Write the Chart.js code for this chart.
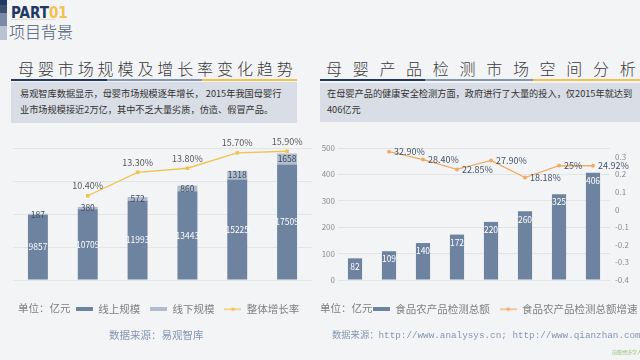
<!DOCTYPE html>
<html><head><meta charset="utf-8">
<script src="https://cdn.jsdelivr.net/npm/chart.js@4.4.1/dist/chart.umd.min.js"></script>
<style>
html,body{margin:0;padding:0}
body{width:640px;height:360px;position:relative;overflow:hidden;background:#f3f4f6;font-family:"Noto Sans CJK SC","Noto Sans",sans-serif;}
.a{position:absolute;white-space:nowrap;line-height:1;}
canvas{position:absolute;}
.bx{font-size:9.2px;color:#333;}
.tt{font-size:16px;color:#3a3a3a;font-weight:300;}
</style></head><body>
<div class="a" style="left:0;top:0;width:7px;height:5px;background:#1f3864"></div>
<div class="a" style="left:0;top:5px;width:7px;height:8px;background:#3d4f6e"></div>
<div class="a" style="left:0;top:13px;width:7px;height:13px;background:#7a8aa6"></div>
<div class="a" style="left:0;top:26px;width:7px;height:14px;background:#b8c2d1"></div>
<div class="a" style="left:11px;top:4px;font:bold 15px 'Liberation Sans Narrow','DejaVu Sans Condensed',sans-serif;color:#1f3864">PART<span style="color:#f2c14e">01</span></div>
<div class="a" style="left:11px;top:19px;width:44px;height:1px;background:#e6dcc4"></div>
<div class="a" style="left:9px;top:23px;font-size:16px;color:#4a5970;font-weight:300">项目背景</div>

<div class="a tt" style="left:18px;top:60px;letter-spacing:3.9px">母婴市场规模及增长率变化趋势</div>
<div class="a tt" style="left:326px;top:60px;letter-spacing:10.7px">母婴产品检测市场空间分析</div>

<div class="a" style="left:11px;top:79px;width:96px;height:2px;background:#203864"></div>
<div class="a" style="left:107px;top:79px;width:95px;height:2px;background:#8496b0"></div>
<div class="a" style="left:202px;top:79px;width:95px;height:2px;background:#f4c14f"></div>
<div class="a" style="left:320px;top:79px;width:105px;height:2px;background:#203864"></div>
<div class="a" style="left:425px;top:79px;width:108px;height:2px;background:#8496b0"></div>
<div class="a" style="left:533px;top:79px;width:107px;height:2px;background:#f4c14f"></div>

<div class="a" style="left:11px;top:82px;width:286px;height:41px;background:#d9dde5"></div>
<div class="a" style="left:320px;top:83px;width:320px;height:39px;background:#d9dde5"></div>
<div class="a bx" style="left:20px;top:89px">易观智库数据显示，母婴市场规模逐年增长， 2015年我国母婴行</div>
<div class="a bx" style="left:20px;top:105px">业市场规模接近2万亿，其中不乏大量劣质，仿造、假冒产品。</div>
<div class="a bx" style="left:327px;top:89px">在母婴产品的健康安全检测方面，政府进行了大量的投入，仅2015年就达到</div>
<div class="a bx" style="left:327px;top:105px">406亿元</div>

<canvas id="c1" width="320" height="195" style="left:0;top:130px"></canvas>
<canvas id="c2" width="320" height="195" style="left:320px;top:130px"></canvas>

<div class="a" style="left:18px;top:303px;font-size:10.5px;color:#7f7f7f">单位：亿元</div>
<div class="a" style="left:320px;top:303px;font-size:10.5px;color:#7f7f7f">单位：亿元</div>
<div class="a" style="left:109px;top:330px;font-size:10.5px;color:#8496b0">数据来源：易观智库</div>
<div class="a" style="left:332px;top:331px;font-size:9.3px;color:#8496b0;font-family:'Liberation Mono','Noto Sans CJK SC',monospace">数据来源：http://www.analysys.cn; http://www.qianzhan.com</div>
<div class="a" style="left:612px;top:349px;font-size:5px;color:#9cc47a">前瞻经济学人</div>

<script>
// ---- data ----
const years1 = ['Y2010','Y2011','Y2012','Y2013','Y2014','Y2015'];
const onlineScale = [9857,10709,11993,13443,15225,17509];
const offlineScale = [187,380,572,860,1318,1658];
const totalGrowth = [null,0.104,0.133,0.138,0.157,0.159];
const growthLabels1 = ['','10.40%','13.30%','13.80%','15.70%','15.90%'];

const years2 = ['Y2008','Y2009','Y2010','Y2011','Y2012','Y2013','Y2014','Y2015'];
const testTotal = [82,109,140,172,220,260,325,406];
const testGrowth = [null,0.329,0.284,0.2285,0.279,0.1818,0.25,0.2492];
const growthLabels2 = ['','32.90%','28.40%','22.85%','27.90%','18.18%','25%','24.92%'];

const C_DARK = '#6e83a0', C_LIGHT = '#b1bdcc', C_GOLD = '#f2c24f', C_ORANGE = '#f2ab62';
const LBL_FONT = '"Noto Sans CJK SC","Noto Sans",sans-serif';

function swatch(kind, color){
  const c = document.createElement('canvas');
  if(kind==='rect'){ c.width=17; c.height=4; const x=c.getContext('2d'); x.fillStyle=color; x.fillRect(0,0,17,4); }
  else { c.width=17; c.height=6; const x=c.getContext('2d'); x.strokeStyle=color; x.lineWidth=1.2; x.beginPath(); x.moveTo(0,3); x.lineTo(17,3); x.stroke(); x.fillStyle=color; x.beginPath(); x.arc(8.5,3,1.8,0,Math.PI*2); x.fill(); }
  return c;
}

const valuePlugin = {
  id:'valueLabels',
  afterDatasetsDraw(chart){
    const ctx = chart.ctx;
    chart.data.datasets.forEach((ds,i)=>{
      const meta = chart.getDatasetMeta(i);
      const o = ds.valueLabel;
      if(!o || meta.hidden) return;
      ctx.save();
      ctx.font = o.font; ctx.fillStyle = o.color; ctx.textAlign = o.align||'center'; ctx.textBaseline='middle';
      meta.data.forEach((el,j)=>{
        const v = ds.data[j]; if(v==null) return;
        const t = o.text(v,j);
        let x = el.x, y = el.y;
        if(o.pos==='center') y = (el.y+el.base)/2;
        else if(o.pos==='insideEnd') y = el.y + o.offset;
        else if(o.pos==='above') y = el.y - o.offset;
        else if(o.pos==='right') x = el.x + o.offset;
        ctx.fillText(t,x,y);
      });
      ctx.restore();
    });
  }
};

const legendShift = {
  id:'legendShift',
  afterLayout(chart, args, opts){
    const l = chart.legend; if(!l) return;
    l.left += opts.dx; l.right += opts.dx;
  }
};

function legendOpts(){
  return {
    position:'bottom', align:'start',
    labels:{
      usePointStyle:true, pointStyleWidth:17, boxHeight:4, padding:10,
      color:'#7f7f7f', font:{size:10.5, family:LBL_FONT},
      generateLabels(chart){
        return chart.data.datasets.map((ds,i)=>({
          text: ds.label, pointStyle: swatch(ds.type==='line'?'line':'rect', ds.type==='line'?ds.borderColor:ds.backgroundColor),
          fillStyle: ds.backgroundColor, strokeStyle: ds.borderColor, lineWidth:0,
          hidden: !chart.isDatasetVisible(i), datasetIndex:i, fontColor:'#7f7f7f'
        }));
      }
    }
  };
}

Chart.defaults.font.family = LBL_FONT;

new Chart(document.getElementById('c1'), {
  data:{
    labels: years1,
    datasets:[
      {type:'bar', label:'线上规模', data:onlineScale, backgroundColor:C_DARK, stack:'s', yAxisID:'y',
       categoryPercentage:0.8, barPercentage:0.5,
       valueLabel:{pos:'center', font:'8.5px '+LBL_FONT, color:'#ffffff', text:v=>String(v)}},
      {type:'bar', label:'线下规模', data:offlineScale, backgroundColor:C_LIGHT, stack:'s', yAxisID:'y',
       categoryPercentage:0.8, barPercentage:0.5,
       valueLabel:{pos:'center', font:'8.5px '+LBL_FONT, color:'#3b4a5e', text:v=>String(v)}},
      {type:'line', label:'整体增长率', data:totalGrowth, borderColor:C_GOLD, backgroundColor:C_GOLD, yAxisID:'y2',
       borderWidth:1.3, pointStyle:'rect', pointRadius:2.5, pointBackgroundColor:C_GOLD, pointBorderWidth:0, order:-1,
       valueLabel:{pos:'above', offset:10, font:'9px '+LBL_FONT, color:'#595959', text:(v,j)=>growthLabels1[j]}}
    ]
  },
  options:{
    responsive:false, devicePixelRatio:1, animation:false,
    layout:{padding:{left:13,right:8,top:18,bottom:0.5}},
    scales:{
      x:{stacked:true, grid:{display:false}, border:{display:false},
         ticks:{color:'#8c8c8c', font:{size:8}, padding:5}, afterFit:s=>{s.height=14;}},
      y:{stacked:true, min:0, max:20000, ticks:{display:false, stepSize:5000},
         grid:{color:'#e3e4e6', drawTicks:false}, border:{display:false}, afterFit:s=>{s.width=0;}},
      y2:{display:false, min:0, max:0.163}
    },
    plugins:{legend:legendOpts(), tooltip:{enabled:false}, legendShift:{dx:53}}
  },
  plugins:[valuePlugin, legendShift]
});

new Chart(document.getElementById('c2'), {
  data:{
    labels: years2,
    datasets:[
      {type:'bar', label:'食品农产品检测总额', data:testTotal, backgroundColor:C_DARK, yAxisID:'y',
       categoryPercentage:0.8, barPercentage:0.52,
       valueLabel:{pos:'insideEnd', offset:8, font:'8.5px '+LBL_FONT, color:'#ffffff', text:v=>String(v)}},
      {type:'line', label:'食品农产品检测总额增速', data:testGrowth, borderColor:C_ORANGE, backgroundColor:C_ORANGE, yAxisID:'y1',
       borderWidth:1.3, pointRadius:2, pointBackgroundColor:C_ORANGE, pointBorderWidth:0, order:-1,
       valueLabel:{pos:'right', offset:5, align:'left', font:'9px '+LBL_FONT, color:'#44546a', text:(v,j)=>growthLabels2[j]}}
    ]
  },
  options:{
    responsive:false, devicePixelRatio:1, animation:false,
    layout:{padding:{left:0,right:0,top:18,bottom:0.5}},
    scales:{
      x:{grid:{display:false}, border:{display:false},
         ticks:{color:'#8c8c8c', font:{size:8}, padding:5}, afterFit:s=>{s.height=14;}},
      y:{position:'left', min:0, max:500, ticks:{stepSize:100, color:'#8c8c8c', font:{size:8}, padding:3},
         grid:{color:'#e3e4e6', drawTicks:false}, border:{display:false}, afterFit:s=>{s.width=18;}},
      y1:{position:'right', min:-0.4, max:0.35,
          ticks:{stepSize:0.1, includeBounds:false, color:'#8c8c8c', font:{size:8}, padding:5,
                 callback:v=>String(Math.round(v*10)/10)},
          grid:{drawOnChartArea:false, drawTicks:false}, border:{display:false}, afterFit:s=>{s.width=30;}}
    },
    plugins:{legend:legendOpts(), tooltip:{enabled:false}, legendShift:{dx:43}}
  },
  plugins:[valuePlugin, legendShift]
});
</script>
</body></html>
